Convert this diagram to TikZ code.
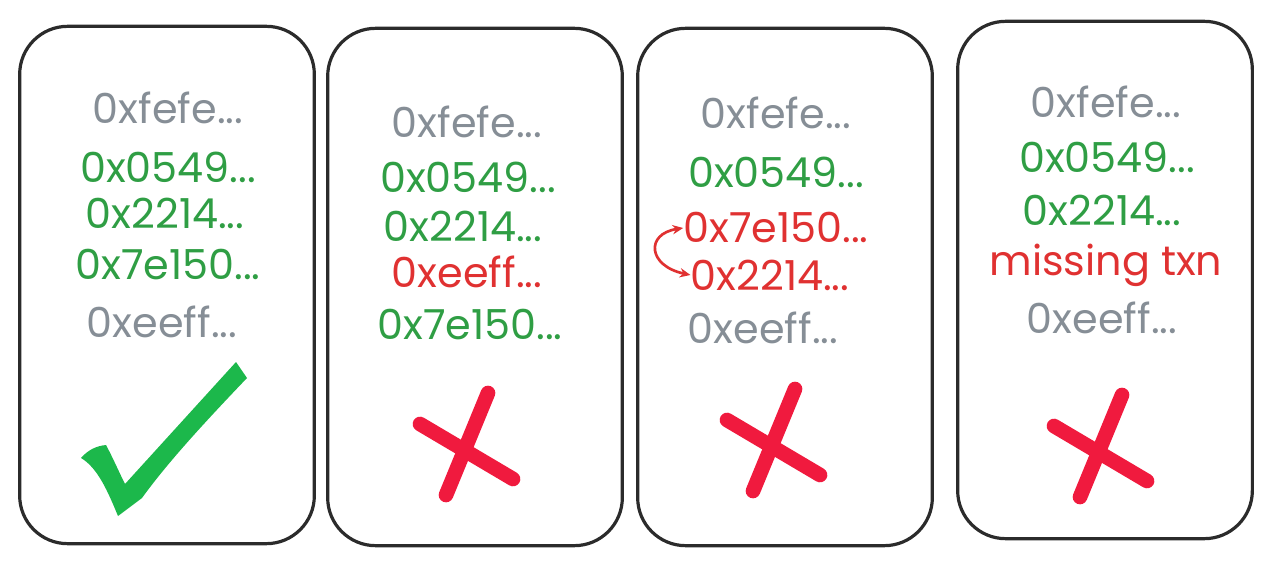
\documentclass[tikz,border=0pt]{standalone}
\usepackage{fontspec}
\setmainfont{Poppins}
\usetikzlibrary{positioning,arrows.meta}
\definecolor{inkgray}{HTML}{868E96}
\definecolor{inkgreen}{HTML}{2F9E44}
\definecolor{inkred}{HTML}{E03131}
\definecolor{okgreen}{HTML}{1CB84B}
\definecolor{badred}{HTML}{F01A3E}
\definecolor{frame}{HTML}{2B2B2B}

\begin{document}
\begin{tikzpicture}[x=0.75pt, y=-0.75pt, >={Stealth[length=8pt,width=7pt]},
    card/.style={rectangle, draw=frame, line width=2.4pt, rounded corners=36pt, minimum width=221pt, minimum height=388pt},
    hash/.style={font=\fontsize{31}{36}\selectfont, inner sep=0pt, anchor=center},
    cross/.style={draw=badred, line width=11pt, line cap=round}]

\useasboundingbox (0,0) rectangle (1273,570);

% the four blocks
\node [card] (card1) at (167,285) {};
\node [card] (card2) at (475,287) {};
\node [card] (card3) at (785,287) {};
\node [card] (card4) at (1105,280) {};

% block 1: correct order
\node [hash, text=inkgray]  (a1) at (168,108) {0xfefe...};
\node [hash, text=inkgreen] (a2) at (168,167) {0x0549...};
\node [hash, text=inkgreen] (a3) at (165,213) {0x2214...};
\node [hash, text=inkgreen] (a4) at (168,265) {0x7e150...};
\node [hash, text=inkgray]  (a5) at (162,322) {0xeeff...};

% block 2: wrong txn in the list
\node [hash, text=inkgray]  (b1) at (467,122) {0xfefe...};
\node [hash, text=inkgreen] (b2) at (468,177) {0x0549...};
\node [hash, text=inkgreen] (b3) at (463,226) {0x2214...};
\node [hash, text=inkred]   (b4) at (467,272) {0xeeff...};
\node [hash, text=inkgreen] (b5) at (470,325) {0x7e150...};

% block 3: swapped order
\node [hash, text=inkgray]  (c1) at (776,113) {0xfefe...};
\node [hash, text=inkgreen] (c2) at (776,172) {0x0549...};
\node [hash, text=inkred]   (c3) at (776,228) {0x7e150...};
\node [hash, text=inkred]   (c4) at (770,275) {0x2214...};
\node [hash, text=inkgray]  (c5) at (763,328) {0xeeff...};

\draw [<->, draw=inkred, line width=2pt] (c3.west) .. controls (645,234) and (648,266) .. (c4.west);

% block 4: missing txn
\node [hash, text=inkgray]  (d1) at (1106,102) {0xfefe...};
\node [hash, text=inkgreen] (d2) at (1107,157) {0x0549...};
\node [hash, text=inkgreen] (d3) at (1102,210) {0x2214...};
\node [hash, text=inkred]   (d4) at (1106,265) {missing txn};
\node [hash, text=inkgray]  (d5) at (1102,318) {0xeeff...};

% verdicts
\fill [okgreen] (81,458) .. controls (88,450) and (96,446) .. (106,445)
  .. controls (113,458) and (119,472) .. (125,484) -- (236,362) -- (247,378)
  .. controls (205,422) and (168,462) .. (142,498) -- (118,516)
  .. controls (108,492) and (98,468) .. cycle;
\foreach \dx/\dy in {0/0, 307/-4, 634/2} {
  \draw [cross] (420+\dx,424+\dy) -- (513+\dx,479+\dy);
  \draw [cross] (488+\dx,393+\dy) -- (446+\dx,495+\dy);
}

\end{tikzpicture}
\end{document}
